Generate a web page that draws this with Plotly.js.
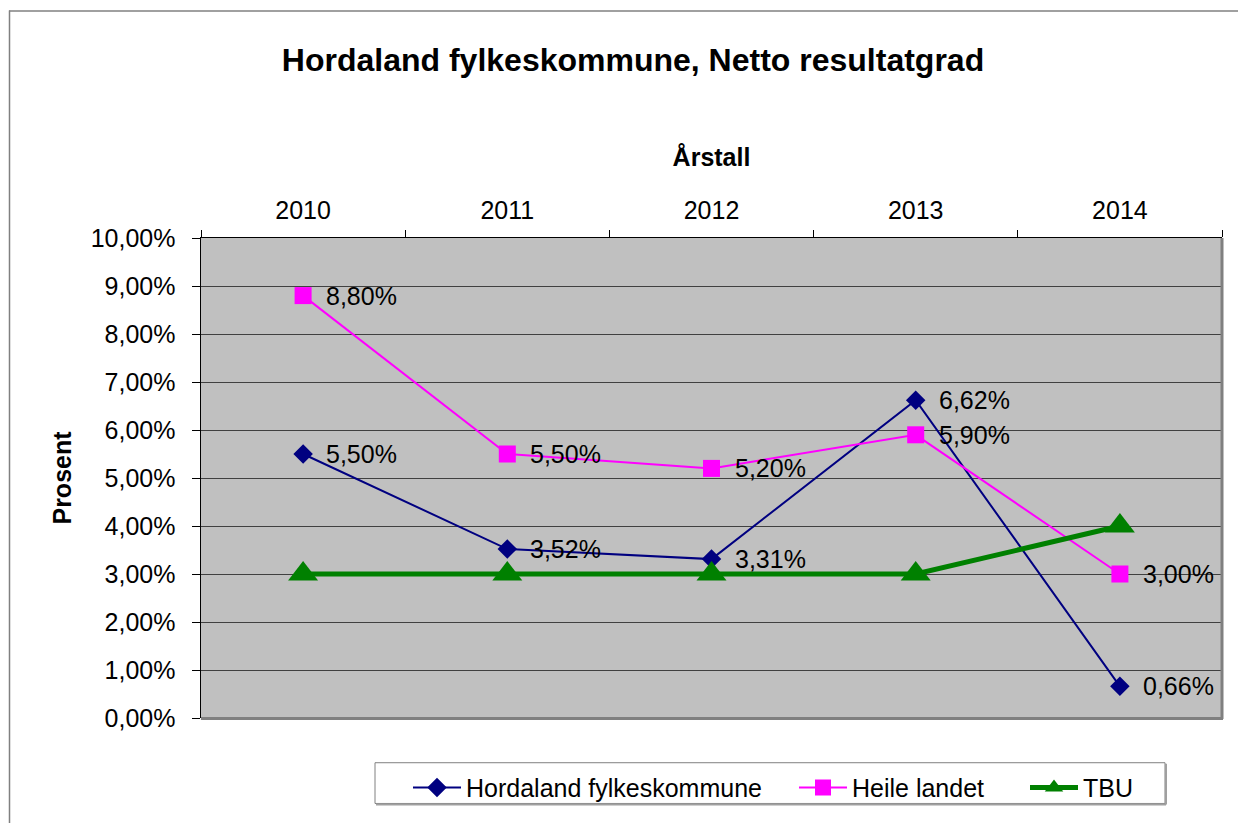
<!DOCTYPE html>
<html>
<head>
<meta charset="utf-8">
<script src="https://cdn.plot.ly/plotly-3.0.1.min.js"></script>
<style>
  html, body { margin: 0; padding: 0; background: #ffffff; }
  #chart { width: 1238px; height: 823px; }
</style>
</head>
<body>
<div id="chart"></div>
<script>
// ---- data ----
const years = ['2010', '2011', '2012', '2013', '2014'];
const hordaland = [5.50, 3.52, 3.31, 6.62, 0.66];
const heileLandet = [8.80, 5.50, 5.20, 5.90, 3.00];
const tbu = [3.00, 3.00, 3.00, 3.00, 4.00];
const seriesNames = ['Hordaland fylkeskommune', 'Heile landet', 'TBU'];
const chartTitle = 'Hordaland fylkeskommune, Netto resultatgrad';
const xTitle = 'Årstall';
const yTitle = 'Prosent';

const FONT = 'Arial, "Liberation Sans", sans-serif';
const fmt = v => v.toFixed(2).replace('.', ',') + '%';

// plot area in pixels (for paper-coordinate helpers)
const W = 1238, H = 823;
const L = 201, R = 1222, T = 238, B = 721;
const px = x => (x - L) / (R - L);
const py = y => (B - y) / (B - T);

const traces = [
  {
    x: years, y: hordaland, name: seriesNames[0], type: 'scatter', mode: 'lines+markers',
    line: { color: '#000080', width: 2 },
    marker: { symbol: 'diamond', size: 15, color: '#000080', line: { width: 0 } },
    legendwidth: 323
  },
  {
    x: years, y: heileLandet, name: seriesNames[1], type: 'scatter', mode: 'lines+markers',
    line: { color: '#FF00FF', width: 2 },
    marker: { symbol: 'square', size: 17, color: '#FF00FF', line: { width: 0 } },
    legendwidth: 168
  },
  {
    x: years, y: tbu, name: seriesNames[2], type: 'scatter', mode: 'lines+markers',
    line: { color: '#008000', width: 5 },
    marker: { symbol: 'triangle-up', size: 26, color: '#008000', line: { width: 0 } }
  }
];

const annotations = [];
[hordaland, heileLandet].forEach(arr => {
  arr.forEach((v, i) => {
    annotations.push({
      x: i, y: v, xref: 'x', yref: 'y', text: fmt(v),
      showarrow: false, xanchor: 'left', yanchor: 'middle', xshift: 21,
      font: { family: FONT, size: 25, color: '#000000' }
    });
  });
});

const shapes = [
  // figure outer border (top and left visible)
  { type: 'line', xref: 'paper', yref: 'paper', x0: px(9), x1: px(W + 5), y0: py(9.5), y1: py(9.5),
    line: { color: '#a0a0a0', width: 2 } },
  { type: 'line', xref: 'paper', yref: 'paper', x0: px(9.5), x1: px(9.5), y0: py(9), y1: py(H + 5),
    line: { color: '#808080', width: 1.5 } },
  // plot area shadow right/bottom
  { type: 'line', xref: 'paper', yref: 'paper', x0: 1, x1: 1, y0: py(B + 1), y1: 1,
    line: { color: '#808080', width: 3 } },
  { type: 'line', xref: 'paper', yref: 'paper', x0: 0, x1: px(R + 1), y0: py(B + 0.5), y1: py(B + 0.5),
    line: { color: '#808080', width: 3 } },
  // legend box
  { type: 'rect', xref: 'paper', yref: 'paper', x0: px(375), x1: px(1165), y0: py(766), y1: py(807),
    line: { color: '#808080', width: 1 }, fillcolor: 'rgba(0,0,0,0)' },
  { type: 'line', xref: 'paper', yref: 'paper', x0: px(1166), x1: px(1166), y0: py(808), y1: py(767),
    line: { color: '#a0a0a0', width: 2 } },
  { type: 'line', xref: 'paper', yref: 'paper', x0: px(376), x1: px(1166), y0: py(808), y1: py(808),
    line: { color: '#a0a0a0', width: 2 } }
];

const layout = {
  width: W, height: H,
  margin: { l: L, r: W - R, t: T, b: H - B, pad: 0 },
  paper_bgcolor: '#ffffff',
  plot_bgcolor: '#C0C0C0',
  separators: ',.',
  font: { family: FONT, size: 25, color: '#000000' },
  title: {
    text: '<b>' + chartTitle + '</b>',
    font: { family: FONT, size: 32, color: '#000000' },
    x: 633 / W, xanchor: 'center', xref: 'container',
    y: 1 - 60 / H, yanchor: 'middle', yref: 'container'
  },
  xaxis: {
    type: 'category', side: 'top', range: [-0.5, 4.5], autorange: false,
    categoryorder: 'array', categoryarray: years,
    title: { text: '<b>' + xTitle + '</b>', font: { family: FONT, size: 25 }, standoff: 22 },
    tickfont: { family: FONT, size: 25, color: '#000000' }, tickangle: 0,
    showline: true, linecolor: '#000000', linewidth: 1.5,
    ticks: 'outside', tickson: 'boundaries', ticklen: 7, tickcolor: '#000000', tickwidth: 1,
    ticklabelstandoff: 8,
    showgrid: false, zeroline: false, automargin: false, fixedrange: true
  },
  yaxis: {
    range: [0, 10], autorange: false, dtick: 1, tick0: 0,
    tickformat: '.2f', ticksuffix: '%',
    title: { text: '<b>' + yTitle + '</b>', font: { family: FONT, size: 25 }, standoff: 12 },
    tickfont: { family: FONT, size: 25, color: '#000000' },
    showline: true, linecolor: '#000000', linewidth: 1.5,
    ticks: 'outside', ticklen: 8, tickcolor: '#000000', tickwidth: 1,
    ticklabelstandoff: 11,
    showgrid: true, gridcolor: '#404040', gridwidth: 1,
    zeroline: false, automargin: false, fixedrange: true
  },
  showlegend: true,
  legend: {
    orientation: 'h', x: px(408), xanchor: 'left', y: py(768), yanchor: 'top',
    bgcolor: 'rgba(0,0,0,0)', borderwidth: 0,
    font: { family: FONT, size: 25, color: '#000000' },
    itemwidth: 48, itemclick: false, itemdoubleclick: false
  },
  shapes: shapes,
  annotations: annotations
};

Plotly.newPlot('chart', traces, layout, { displayModeBar: false, staticPlot: true });
</script>
</body>
</html>
